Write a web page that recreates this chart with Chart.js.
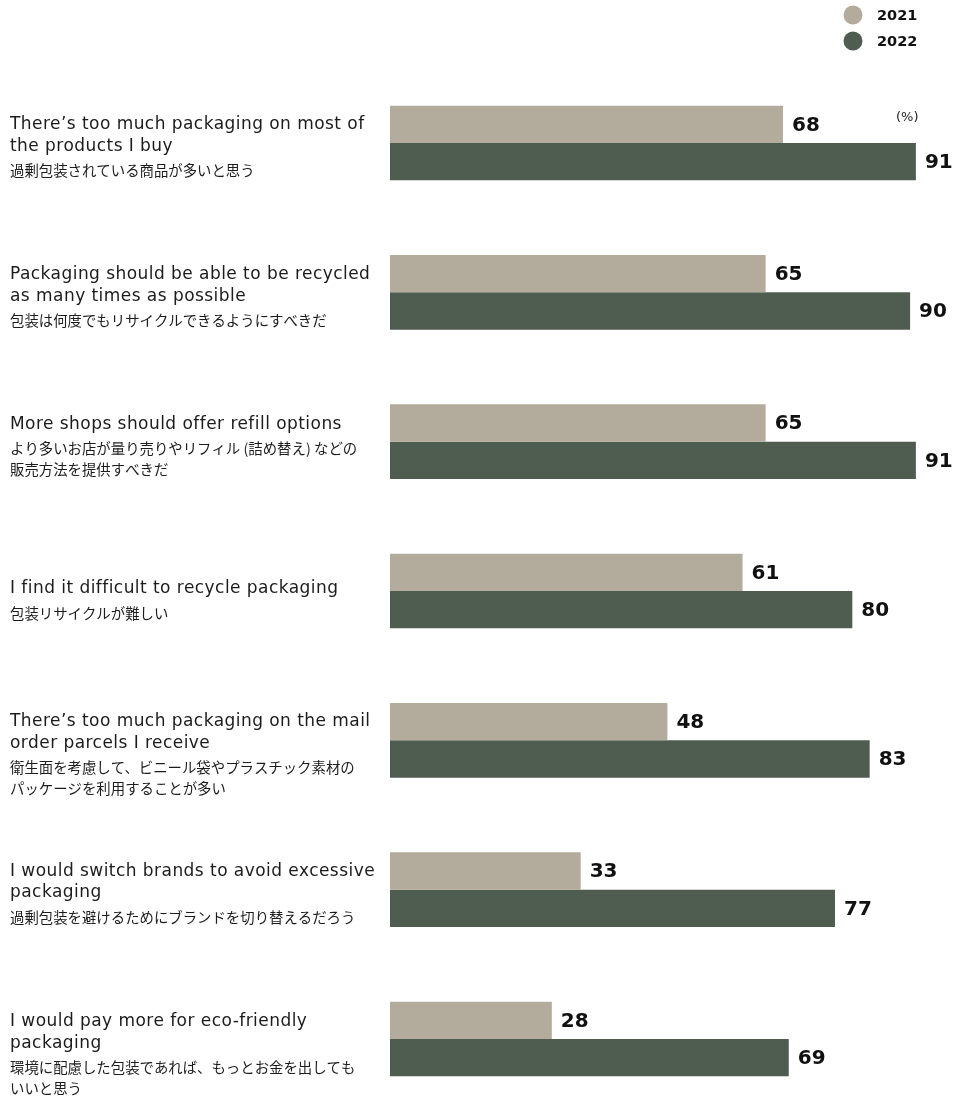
<!DOCTYPE html>
<html>
<head>
<meta charset="utf-8">
<script src="https://cdn.jsdelivr.net/npm/chart.js@4"></script>
<style>
  html, body { margin: 0; padding: 0; background: #fff; overflow: hidden; }
</style>
</head>
<body>
<canvas id="packChart" width="956" height="1096"></canvas>
<script>
// ---- data ----
const years = ['2021', '2022'];

const statementsEn = [
  ['There’s too much packaging on most of', 'the products I buy'],
  ['Packaging should be able to be recycled', 'as many times as possible'],
  ['More shops should offer refill options'],
  ['I find it difficult to recycle packaging'],
  ['There’s too much packaging on the mail', 'order parcels I receive'],
  ['I would switch brands to avoid excessive', 'packaging'],
  ['I would pay more for eco-friendly', 'packaging']
];

const statementsJa = [
  ['過剰包装されている商品が多いと思う'],
  ['包装は何度でもリサイクルできるようにすべきだ'],
  ['より多いお店が量り売りやリフィル (詰め替え) などの', '販売方法を提供すべきだ'],
  ['包装リサイクルが難しい'],
  ['衛生面を考慮して、ビニール袋やプラスチック素材の', 'パッケージを利用することが多い'],
  ['過剰包装を避けるためにブランドを切り替えるだろう'],
  ['環境に配慮した包装であれば、もっとお金を出しても', 'いいと思う']
];

const values2021 = [68, 65, 65, 61, 48, 33, 28];
const values2022 = [91, 90, 91, 80, 83, 77, 69];

const unitLabel = '(%)';

// ---- styling ----
const COLOR_2021 = '#b3ab9b';
const COLOR_2022 = '#4e5d4f';
const TEXT = '#1c1c1c';
const EN_FONT = '17px "DejaVu Sans", sans-serif';
const JA_FONT = '14.4px "Noto Sans CJK JP", sans-serif';
const VALUE_FONT = 'bold 20px "DejaVu Sans", sans-serif';

// baseline of first english line, relative to the category centre
const firstLineShift = [-14, -13, -13, 2, -14, -14, -13];

// statements on the left, english then japanese
const sideLabels = {
  id: 'sideLabels',
  afterDraw(chart) {
    const ctx = chart.ctx;
    const yScale = chart.scales.y;
    ctx.save();
    ctx.textAlign = 'left';
    ctx.textBaseline = 'alphabetic';
    ctx.fillStyle = TEXT;
    statementsEn.forEach((lines, i) => {
      let base = yScale.getPixelForValue(i) + firstLineShift[i];
      ctx.font = EN_FONT;
      ctx.letterSpacing = '0.45px';
      lines.forEach(t => { ctx.fillText(t, 10, base); base += 21.5; });
      base += 4;
      ctx.font = JA_FONT;
      ctx.letterSpacing = '0px';
      statementsJa[i].forEach(t => { ctx.fillText(t, 10, base); base += 20.5; });
    });
    ctx.restore();
  }
};

// numbers at the end of each bar
const barValues = {
  id: 'barValues',
  afterDatasetsDraw(chart) {
    const ctx = chart.ctx;
    ctx.save();
    ctx.font = VALUE_FONT;
    ctx.fillStyle = '#111';
    ctx.textAlign = 'left';
    ctx.textBaseline = 'middle';
    chart.data.datasets.forEach((ds, di) => {
      chart.getDatasetMeta(di).data.forEach((bar, i) => {
        ctx.fillText(String(ds.data[i]), bar.x + 9, bar.y + 1);
      });
    });
    ctx.restore();
  }
};

// legend top right + unit note
const cornerLegend = {
  id: 'cornerLegend',
  afterDraw(chart) {
    const ctx = chart.ctx;
    ctx.save();
    chart.data.datasets.forEach((ds, i) => {
      const cy = 15 + i * 26;
      ctx.beginPath();
      ctx.arc(853, cy, 9.5, 0, Math.PI * 2);
      ctx.fillStyle = ds.backgroundColor;
      ctx.fill();
      ctx.font = 'bold 14.5px "DejaVu Sans", sans-serif';
      ctx.fillStyle = '#111';
      ctx.textBaseline = 'middle';
      ctx.fillText(ds.label, 877, cy + 1);
    });
    ctx.font = '13px "DejaVu Sans", sans-serif';
    ctx.fillStyle = '#222';
    ctx.textBaseline = 'middle';
    ctx.fillText(unitLabel, 896, 118);
    ctx.restore();
  }
};

new Chart(document.getElementById('packChart'), {
  type: 'bar',
  data: {
    labels: statementsEn.map(l => l.join(' ')),
    datasets: [
      { label: years[0], data: values2021, backgroundColor: COLOR_2021, clip: false },
      { label: years[1], data: values2022, backgroundColor: COLOR_2022, clip: false }
    ]
  },
  options: {
    indexAxis: 'y',
    responsive: false,
    animation: false,
    layout: { padding: { left: 390, right: 17, top: 143, bottom: 57 } },
    datasets: { bar: { categoryPercentage: 0.5, barPercentage: 1.0 } },
    plugins: {
      legend: { display: false },
      tooltip: { enabled: false }
    },
    scales: {
      x: { min: 0, max: 95, display: false },
      y: { type: 'category', offset: false, display: false }
    }
  },
  plugins: [sideLabels, barValues, cornerLegend]
});
</script>
</body>
</html>
